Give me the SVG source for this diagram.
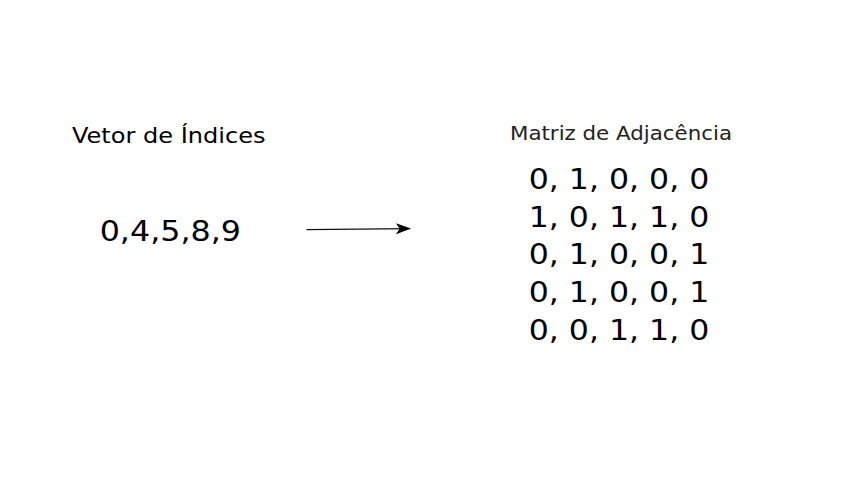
<svg xmlns="http://www.w3.org/2000/svg" width="853" height="480" viewBox="0 0 853 480">
<style>
text{font-family:"DejaVu Sans","Liberation Sans",sans-serif;fill:#000}
.title{font-size:21.5px}
.sub{font-size:19px;fill:#222}
.big{font-size:28px}
.conn{stroke:#111;stroke-width:1.2;fill:none}
</style>
<defs>
<marker id="arr" viewBox="0 0 15 11" refX="14" refY="5.5" markerWidth="15" markerHeight="11" markerUnits="userSpaceOnUse" orient="auto">
<path d="M0,0 L15,5.5 L0,11 L3.5,5.5 Z" fill="#000"/>
</marker>
</defs>
<rect width="853" height="480" fill="#fff"/>
<g id="vetor">
<text class="title" x="72" y="142.5" textLength="193.5" lengthAdjust="spacingAndGlyphs">Vetor de Índices</text>
<text class="big" x="99.7" y="241" textLength="141.3" lengthAdjust="spacingAndGlyphs">0,4,5,8,9</text>
</g>
<g id="matriz">
<text class="sub" x="510" y="140" textLength="222" lengthAdjust="spacingAndGlyphs">Matriz de Adjacência</text>
<text class="big" x="528.7" y="189.3" textLength="180.6" lengthAdjust="spacingAndGlyphs">0, 1, 0, 0, 0</text>
<text class="big" x="528.7" y="226.8" textLength="180.6" lengthAdjust="spacingAndGlyphs">1, 0, 1, 1, 0</text>
<text class="big" x="528.7" y="264.4" textLength="180.6" lengthAdjust="spacingAndGlyphs">0, 1, 0, 0, 1</text>
<text class="big" x="528.7" y="302.2" textLength="180.6" lengthAdjust="spacingAndGlyphs">0, 1, 0, 0, 1</text>
<text class="big" x="528.7" y="340.2" textLength="180.6" lengthAdjust="spacingAndGlyphs">0, 0, 1, 1, 0</text>
</g>
<g id="connectors">
<path class="conn" d="M306.5,229.7 L410,228.6" marker-end="url(#arr)"/>
</g>
</svg>
